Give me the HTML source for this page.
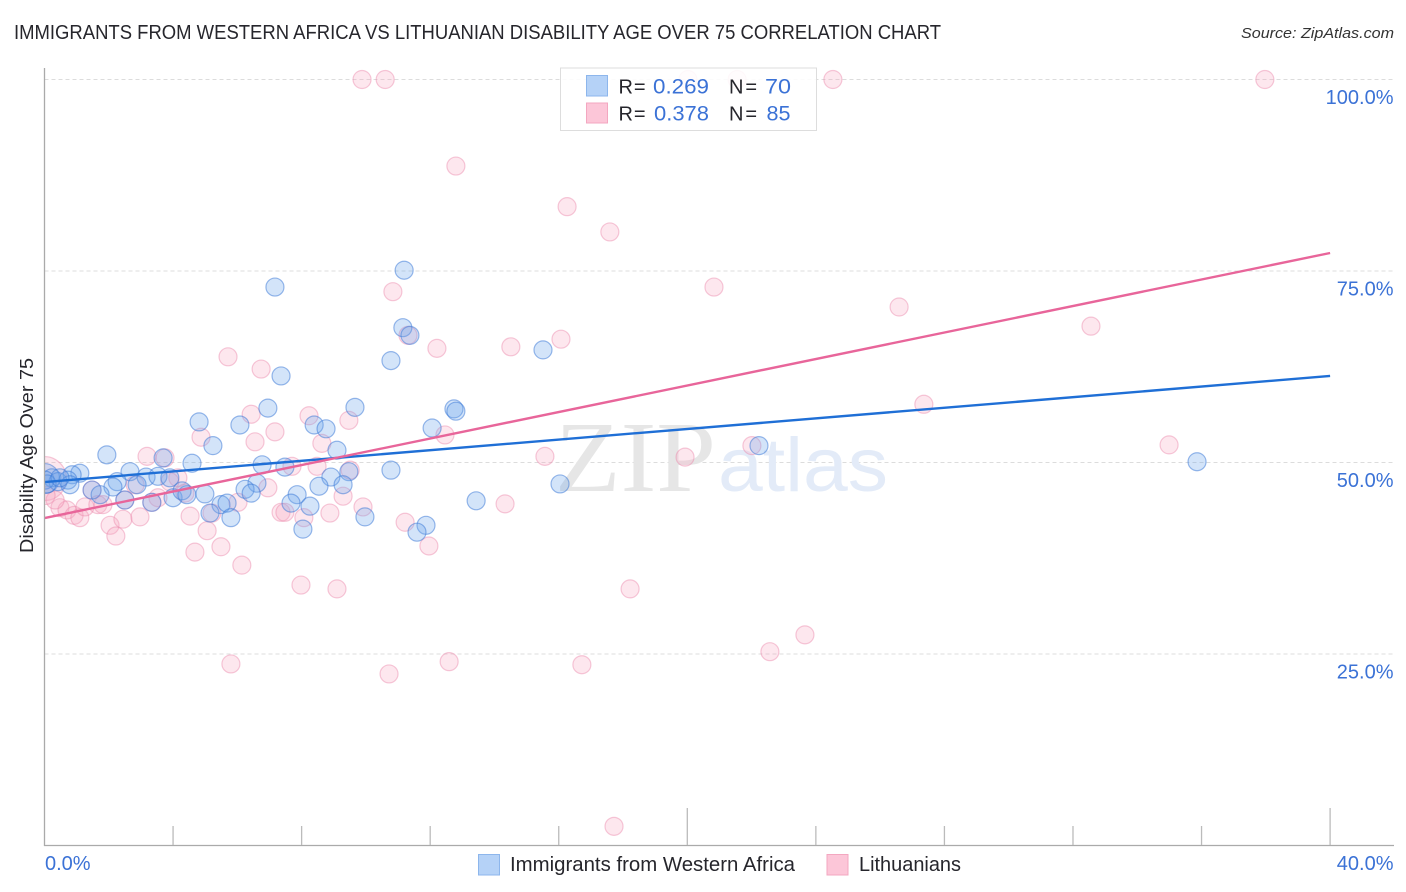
<!DOCTYPE html>
<html lang="en">
<head>
<meta charset="utf-8">
<title>Immigrants from Western Africa vs Lithuanian Disability Age Over 75 Correlation Chart</title>
<style>
html,body{margin:0;padding:0;background:#fff;width:1406px;height:892px;overflow:hidden}
svg{display:block;font-family:"Liberation Sans",sans-serif}
</style>
</head>
<body>
<svg id="chart" width="1406" height="892" viewBox="0 0 1406 892" xmlns="http://www.w3.org/2000/svg">
  <defs><clipPath id="plot-clip"><rect x="44.5" y="60" width="1350" height="785"/></clipPath></defs>
  <text x="14" y="39" font-size="20" fill="#26262c" textLength="927" lengthAdjust="spacingAndGlyphs">IMMIGRANTS FROM WESTERN AFRICA VS LITHUANIAN DISABILITY AGE OVER 75 CORRELATION CHART</text>
  <text x="1394" y="38" font-size="15" font-style="italic" fill="#333" text-anchor="end" textLength="153" lengthAdjust="spacingAndGlyphs">Source: ZipAtlas.com</text>
  <g id="grid"></g>
  <g>
    <text x="555" y="491" font-family="'Liberation Serif',serif" font-size="101" fill="#e6e6e6" textLength="161" lengthAdjust="spacingAndGlyphs">ZIP</text>
    <text x="718" y="491" font-size="76" fill="#e3ebf8" textLength="170" lengthAdjust="spacingAndGlyphs">atlas</text>
  </g>
  <g id="points" clip-path="url(#plot-clip)"></g>
  <g id="trends"></g>
  <g id="axes"></g>
  <text transform="translate(33,553) rotate(-90)" font-size="18" fill="#26262c" textLength="195" lengthAdjust="spacingAndGlyphs">Disability Age Over 75</text>

  <g>
    <rect x="560.5" y="68" width="256" height="62.5" fill="#fff" fill-opacity="0.88" stroke="#ddd" stroke-width="1"/>
    <rect x="586.5" y="75.5" width="21" height="20.5" fill="#b5d2f7" stroke="#8db6ec" stroke-width="1"/>
    <rect x="586.5" y="103" width="21" height="20" fill="#fcc6d8" stroke="#f3a7c0" stroke-width="1"/>
    <g font-size="20" fill="#26262c">
      <text x="618.5" y="93.5" textLength="27" lengthAdjust="spacing">R =</text>
      <text x="729" y="93.5" textLength="28" lengthAdjust="spacing">N =</text>
      <text x="618.5" y="120.5" textLength="27" lengthAdjust="spacing">R =</text>
      <text x="729" y="120.5" textLength="28" lengthAdjust="spacing">N =</text>
    </g>
    <g font-size="21" fill="#3b72d6">
      <text x="653" y="93.5" textLength="56" lengthAdjust="spacingAndGlyphs">0.269</text>
      <text x="765" y="93.5" textLength="26" lengthAdjust="spacingAndGlyphs">70</text>
      <text x="654" y="120.5" textLength="55" lengthAdjust="spacingAndGlyphs">0.378</text>
      <text x="766.5" y="120.5" textLength="24" lengthAdjust="spacingAndGlyphs">85</text>
    </g>
  </g>

  <g>
    <rect x="478.5" y="854.5" width="21" height="20.5" fill="#b5d2f7" stroke="#8db6ec" stroke-width="1"/>
    <text x="510" y="871" font-size="20" fill="#26262c" textLength="285" lengthAdjust="spacingAndGlyphs">Immigrants from Western Africa</text>
    <rect x="827" y="854.5" width="21" height="20.5" fill="#fcc6d8" stroke="#f3a7c0" stroke-width="1"/>
    <text x="859" y="871" font-size="20" fill="#26262c" textLength="102" lengthAdjust="spacingAndGlyphs">Lithuanians</text>
  </g>
</svg>
<script>
const xTickValues = [0,4,8,12,16,20,24,28,32,36,40];
const xMajorTicks = [20,40];
const xTickLabels = ["0.0%","40.0%"];
const yTickValues = [25,50,75,100];
const yTickLabels = ["25.0%","50.0%","75.0%","100.0%"];

const blueX = [11.19,7.17,11.15,11.37,7.36,10.78,15.51,6.95,9.66,12.74,12.80,4.81,6.08,8.39,8.76,12.06,5.24,9.10,1.94,22.23,35.86,3.69,4.59,6.77,7.48,10.78,9.47,2.66,1.10,0.86,3.16,3.53,3.90,8.91,0.23,0.42,0.73,0.79,0.02,1.48,2.26,2.13,2.88,6.61,6.24,6.43,8.54,9.29,16.04,1.73,2.50,3.34,4.00,4.28,4.43,4.99,7.86,7.67,8.26,13.43,5.49,5.68,5.15,5.80,9.97,11.87,11.59,8.04,0.08,0.48];
const blueY = [75.1,72.9,67.6,66.6,61.3,63.3,64.7,57.1,57.2,57.0,56.7,55.3,54.9,54.9,54.4,54.5,52.2,51.6,51.0,52.2,50.1,50.6,49.9,49.7,49.4,49.0,48.8,48.8,48.6,48.4,48.1,48.2,48.0,48.1,48.0,47.5,47.7,47.1,47.7,46.4,47.5,46.8,47.1,47.3,46.5,46.0,46.9,47.1,47.2,45.8,45.1,44.8,45.4,46.3,45.8,45.9,45.8,44.7,44.3,45.0,44.5,44.7,43.4,42.8,42.9,41.8,40.9,41.3,47.2,48.0];
const pinkX = [9.88,10.60,20.02,21.55,24.53,37.97,12.80,16.26,17.59,10.84,20.83,26.59,32.56,16.07,14.51,12.21,11.31,5.71,6.74,27.36,6.43,8.23,9.47,7.17,4.87,12.46,6.55,8.63,22.01,34.99,15.57,19.93,3.19,3.75,7.70,8.48,9.51,14.33,6.95,4.15,3.90,9.29,9.91,7.36,7.48,8.07,8.88,11.22,11.96,18.22,7.98,9.10,23.66,22.57,5.80,12.59,16.72,10.72,17.72,5.49,6.14,4.68,5.06,0.48,0.70,0.92,1.10,1.26,1.66,1.82,2.04,2.44,2.22,2.97,2.50,2.82,3.53,3.34,4.37,4.53,6.02,5.21,0.33,1.48,0.05];
const pinkY = [100,100,100,100,100,100,88.7,83.4,80.1,72.3,72.9,70.3,67.8,66.1,65.1,64.9,66.6,63.8,62.2,57.6,56.3,56.1,55.5,54.0,53.3,53.6,52.7,52.5,52.2,52.3,50.8,50.7,50.8,50.6,49.5,49.5,49.0,44.6,46.7,48.0,47.5,45.6,44.2,43.5,43.5,42.8,43.4,42.2,39.1,33.5,34.0,33.5,27.5,25.3,23.7,24.0,23.6,22.4,2.5,39.0,36.6,38.3,41.1,44.1,43.8,43.1,42.8,44.2,44.5,44.5,41.8,42.6,40.4,42.9,45.1,47.1,45.4,44.8,46.0,43.0,44.8,43.4,45.1,46.4,45.7];
const blueLargeX = [0];
const blueLargeY = [47.9];
const pinkLargeX = [0];
const pinkLargeY = [47.9];
const blueTrendX = [0,40];
const blueTrendY = [47.45,61.3];
const pinkTrendX = [0,40];
const pinkTrendY = [42.75,77.35];

const NS = 'http://www.w3.org/2000/svg';
const xAt = v => 44.5 + v * 32.14;
const yAt = v => 845.5 - v * 7.66;

function node(parent, tag, attrs, text) {
  const el = document.createElementNS(NS, tag);
  for (const k in attrs) el.setAttribute(k, attrs[k]);
  if (text !== undefined) el.textContent = text;
  parent.appendChild(el);
  return el;
}

const gridG = document.getElementById('grid');
const axesG = document.getElementById('axes');
const pointsG = document.getElementById('points');
const trendsG = document.getElementById('trends');

yTickValues.forEach((v, i) => {
  const g = node(gridG, 'line', {x1: 44.5, x2: 1394, y1: yAt(v), y2: yAt(v), stroke: '#dcdcdc', 'stroke-width': 1, 'stroke-dasharray': '4 3'});
  
  
  const t = node(axesG, 'text', {x: 1393.5, y: yAt(v) + 24.5, 'font-size': 20, fill: '#3b72d6', 'text-anchor': 'end'}, yTickLabels[i]);
  
  
});

const yAxis = node(axesG, 'line', {x1: 44.5, x2: 44.5, y1: 68, y2: 846, stroke: '#aaa', 'stroke-width': 1.3});


const xAxis = node(axesG, 'line', {x1: 44, x2: 1394, y1: 845.5, y2: 845.5, stroke: '#aaa', 'stroke-width': 1.3});



xTickValues.forEach(v => {
  if (v === 0) return;
  const top = xMajorTicks.includes(v) ? 808 : 826;
  const tick = node(axesG, 'line', {x1: xAt(v), x2: xAt(v), y1: top, y2: 845, stroke: '#bbb', 'stroke-width': 1.3});
  
  
});

const xLabelLeft = node(axesG, 'text', {x: 45, y: 870, 'font-size': 20, fill: '#3b72d6'}, xTickLabels[0]);


const xLabelRight = node(axesG, 'text', {x: 1393.5, y: 870, 'font-size': 20, fill: '#3b72d6', 'text-anchor': 'end'}, xTickLabels[1]);



const PINK_STYLE = {fill: 'rgba(248,165,192,0.27)', stroke: 'rgba(236,135,170,0.45)', 'stroke-width': 1.2};
const BLUE_STYLE = {fill: 'rgba(110,165,235,0.30)', stroke: 'rgba(60,120,215,0.52)', 'stroke-width': 1.2};

function drawSeries(xs, ys, radius, style, name) {
  xs.forEach((x, i) => {
    const c = node(pointsG, 'circle', Object.assign({cx: xAt(x), cy: yAt(ys[i]), r: radius}, style));
    
    
  });
}

drawSeries(pinkLargeX, pinkLargeY, 22, PINK_STYLE, 'point-lithuanians-large');
drawSeries(pinkX, pinkY, 9, PINK_STYLE, 'point-lithuanians');
drawSeries(blueLargeX, blueLargeY, 15, BLUE_STYLE, 'point-immigrants-large');
drawSeries(blueX, blueY, 9, BLUE_STYLE, 'point-immigrants');

const blueLine = node(trendsG, 'line', {x1: xAt(blueTrendX[0]), y1: yAt(blueTrendY[0]), x2: xAt(blueTrendX[1]), y2: yAt(blueTrendY[1]), stroke: '#1f6fd6', 'stroke-width': 2.4});


const pinkLine = node(trendsG, 'line', {x1: xAt(pinkTrendX[0]), y1: yAt(pinkTrendY[0]), x2: xAt(pinkTrendX[1]), y2: yAt(pinkTrendY[1]), stroke: '#e8659a', 'stroke-width': 2.4});


</script>
</body>
</html>
